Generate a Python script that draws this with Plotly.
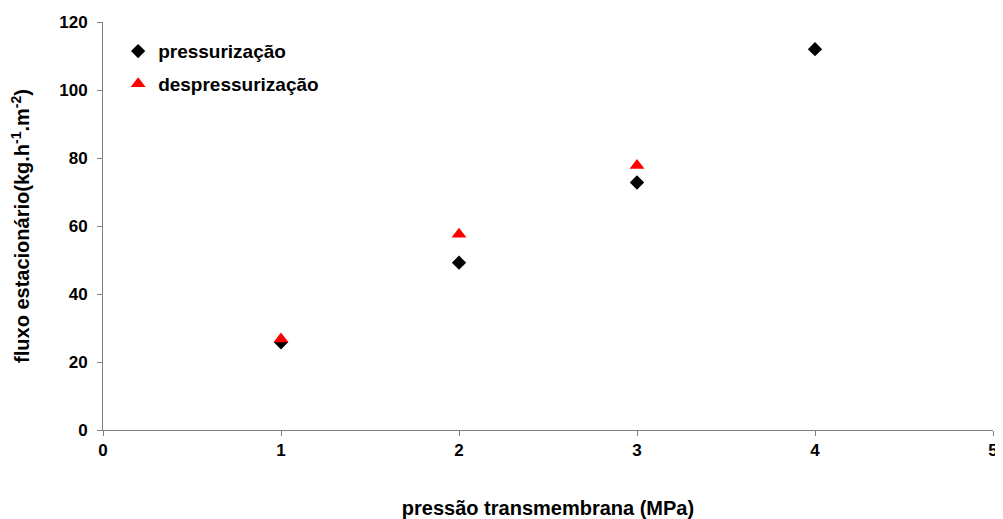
import plotly.graph_objects as go

# pressão transmembrana (MPa) vs fluxo estacionário
x_press = [1, 2, 3, 4]
y_press = [25.8, 49.2, 72.8, 112.0]
x_desp = [1, 2, 3]
y_desp = [26.8, 57.6, 77.8]

FONT = "Liberation Sans, Arial, sans-serif"
AXIS_GREY = "#808080"

fig = go.Figure()
fig.add_trace(go.Scatter(
    x=x_press, y=y_press, mode="markers", name="pressurização",
    legendgroup="p", marker=dict(symbol="diamond", size=11, color="black")))
fig.add_trace(go.Scatter(
    x=x_desp, y=y_desp, mode="markers", name="despressurização",
    legendgroup="d",
    marker=dict(symbol="triangle-up", size=13, color="red")))

# the page body adds an 8px margin, so the figure is sized to fit inside it
fig.update_layout(
    width=995, height=511,
    margin=dict(l=95, r=10, t=14, b=89),
    paper_bgcolor="white", plot_bgcolor="white",
    font=dict(family=FONT, size=17, color="black"),
    showlegend=True,
    legend=dict(x=0.017, y=0.975, xanchor="left", yanchor="top",
                font=dict(size=19, family=FONT, weight="bold"),
                itemwidth=30, tracegroupgap=5, bgcolor="rgba(0,0,0,0)"),
    xaxis=dict(
        range=[0, 5], tickvals=[0, 1, 2, 3, 4, 5], showgrid=False,
        zeroline=False, showline=True, linecolor=AXIS_GREY, linewidth=1,
        ticks="outside", ticklen=5, tickcolor=AXIS_GREY, automargin=False,
        tickfont=dict(family=FONT, size=17, weight="bold"),
        title=dict(text="pressão transmembrana (MPa)", standoff=41,
                   font=dict(size=20, weight="bold"))),
    yaxis=dict(
        range=[0, 120], tickvals=[0, 20, 40, 60, 80, 100, 120],
        showgrid=False, zeroline=False, showline=True, linecolor=AXIS_GREY,
        linewidth=1, ticks="outside", ticklen=5, tickcolor=AXIS_GREY,
        automargin=False, ticklabelstandoff=6,
        tickfont=dict(family=FONT, size=17, weight="bold"),
        title=dict(
            text="fluxo estacionário(kg.h<sup>-1</sup>.m<sup>-2</sup>)",
            standoff=28, font=dict(size=20, weight="bold"))),
)

fig.write_html("out.html")
